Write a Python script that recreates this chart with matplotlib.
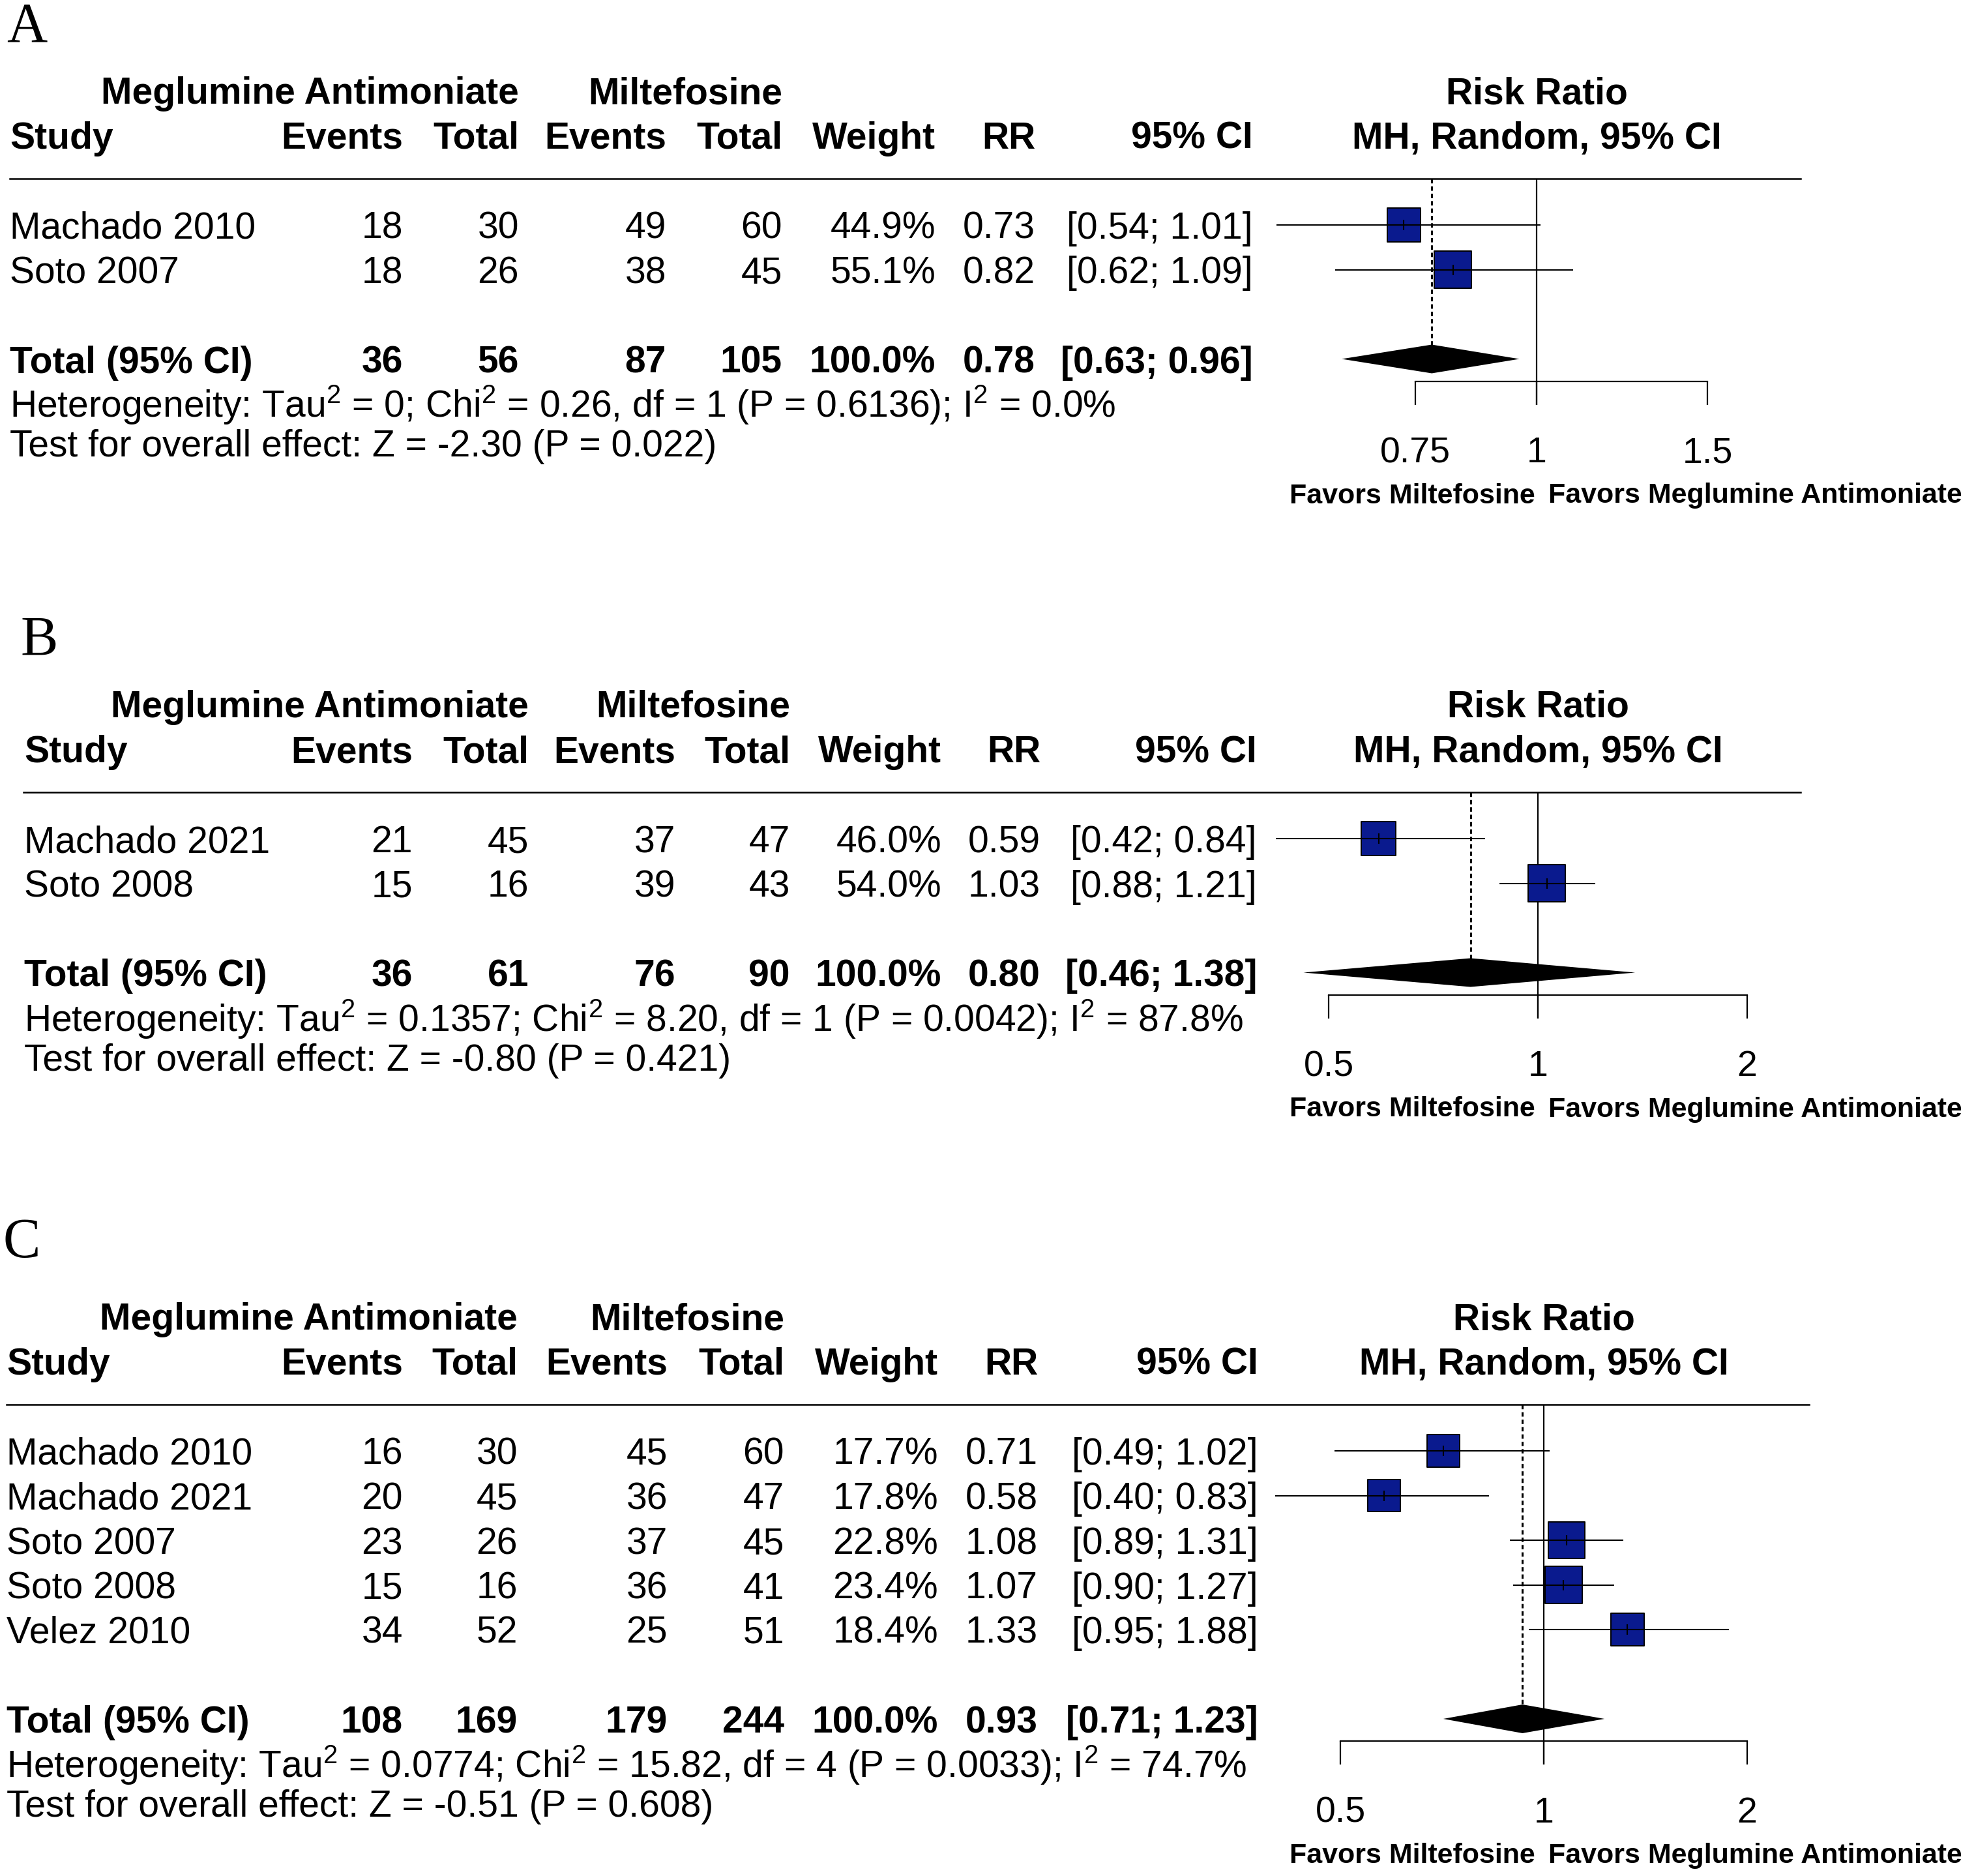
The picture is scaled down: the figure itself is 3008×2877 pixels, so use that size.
import numpy as np
import matplotlib
matplotlib.use("Agg")
import matplotlib.pyplot as plt
from matplotlib.ticker import NullLocator

plt.rcParams['font.family'] = ['Liberation Sans', 'DejaVu Sans']
plt.rcParams['mathtext.fontset'] = 'custom'
plt.rcParams['mathtext.rm'] = 'Liberation Sans'
plt.rcParams['mathtext.default'] = 'regular'

W, H = 3008, 2877
FS = 41          # table text
FS_TICK = 40
FS_FAV = 31      # "Favors ..." labels
SQ_COL = "#0a1a8e"

# ---- data: panel A ----
A_STUDY = ["Machado 2010", "Soto 2007"]
A_EV_MA = [18, 18]
A_N_MA = [30, 26]
A_EV_MI = [49, 38]
A_N_MI = [60, 45]
A_WEIGHT = [44.9, 55.1]
A_RR = [0.73, 0.82]
A_LO = [0.54, 0.62]
A_HI = [1.01, 1.09]
A_POOLED = [0.78, 0.63, 0.96]
A_HET = "Heterogeneity: Tau$^2$ = 0; Chi$^2$ = 0.26, df = 1 (P = 0.6136); I$^2$ = 0.0%"
A_TEST = "Test for overall effect: Z = -2.30 (P = 0.022)"
A_TICKS = [0.75, 1, 1.5]

# ---- data: panel B ----
B_STUDY = ["Machado 2021", "Soto 2008"]
B_EV_MA = [21, 15]
B_N_MA = [45, 16]
B_EV_MI = [37, 39]
B_N_MI = [47, 43]
B_WEIGHT = [46.0, 54.0]
B_RR = [0.59, 1.03]
B_LO = [0.42, 0.88]
B_HI = [0.84, 1.21]
B_POOLED = [0.80, 0.46, 1.38]
B_HET = "Heterogeneity: Tau$^2$ = 0.1357; Chi$^2$ = 8.20, df = 1 (P = 0.0042); I$^2$ = 87.8%"
B_TEST = "Test for overall effect: Z = -0.80 (P = 0.421)"
B_TICKS = [0.5, 1, 2]

# ---- data: panel C ----
C_STUDY = ["Machado 2010", "Machado 2021", "Soto 2007", "Soto 2008", "Velez 2010"]
C_EV_MA = [16, 20, 23, 15, 34]
C_N_MA = [30, 45, 26, 16, 52]
C_EV_MI = [45, 36, 37, 36, 25]
C_N_MI = [60, 47, 45, 41, 51]
C_WEIGHT = [17.7, 17.8, 22.8, 23.4, 18.4]
C_RR = [0.71, 0.58, 1.08, 1.07, 1.33]
C_LO = [0.49, 0.40, 0.89, 0.90, 0.95]
C_HI = [1.02, 0.83, 1.31, 1.27, 1.88]
C_POOLED = [0.93, 0.71, 1.23]
C_HET = "Heterogeneity: Tau$^2$ = 0.0774; Chi$^2$ = 15.82, df = 4 (P = 0.0033); I$^2$ = 74.7%"
C_TEST = "Test for overall effect: Z = -0.51 (P = 0.608)"
C_TICKS = [0.5, 1, 2]

fig = plt.figure(figsize=(W / 100, H / 100), dpi=100)
base = fig.add_axes([0, 0, 1, 1])
base.set_xlim(0, W)
base.set_ylim(H, 0)
base.axis("off")


def txt(x, y, s, ha="left", bold=False, size=FS, ax=None):
    (ax or base).text(x, y, s, ha=ha, va="baseline", fontsize=size,
                      fontweight="bold" if bold else "normal", color="k")


def panel(letter, dy, y_letter, study_x, cols, line_x, x1, k,
          study, ev_ma, n_ma, ev_mi, n_mi, weight, rr, lo, hi, pooled, het, test, ticks):
    # vertical layout in pixels
    y_h1, y_h2, y_line = 159 + dy, 228 + dy, 274 + dy
    y_rows = 366 + dy + 68.5 * np.arange(len(study))
    y_tot = y_rows[-1] + 137
    y_het, y_test = y_tot + 69, y_tot + 129
    y_axis = y_tot + 13

    base.text(study_x - 5, y_letter, letter, family="Liberation Serif", fontsize=62,
              va="baseline", ha="left")

    # header
    txt(cols[1], y_h1, "Meglumine Antimoniate", "right", True)
    txt(cols[3], y_h1, "Miltefosine", "right", True)
    txt(study_x, y_h2, "Study", bold=True)
    for x, s in zip(cols, ["Events", "Total", "Events", "Total", "Weight", "RR", "95% CI"]):
        txt(x, y_h2, s, "right", True)
    base.plot(line_x, [y_line, y_line], color="k", lw=1.8)

    # study rows
    for i, y in enumerate(y_rows):
        vals = [ev_ma[i], n_ma[i], ev_mi[i], n_mi[i], f"{weight[i]:.1f}%",
                f"{rr[i]:.2f}", f"[{lo[i]:.2f}; {hi[i]:.2f}]"]
        txt(study_x, y, study[i])
        for x, v in zip(cols, vals):
            txt(x, y, str(v), "right")

    # total row
    tvals = [sum(ev_ma), sum(n_ma), sum(ev_mi), sum(n_mi), "100.0%",
             f"{pooled[0]:.2f}", f"[{pooled[1]:.2f}; {pooled[2]:.2f}]"]
    txt(study_x, y_tot, "Total (95% CI)", bold=True)
    for x, v in zip(cols, tvals):
        txt(x, y_tot, str(v), "right", True)
    txt(study_x, y_het, het)
    txt(study_x, y_test, test)

    # forest part on a log-scaled axes
    fx = fig.add_axes([0, 0, 1, 1])
    fx.set_facecolor("none")
    fx.set_xscale("log")
    fx.set_xlim(np.exp(-x1 / k), np.exp((W - x1) / k))
    fx.set_ylim(H, 0)
    for s in ["top", "left", "right"]:
        fx.spines[s].set_visible(False)
    fx.spines["bottom"].set_position(("data", y_axis))
    fx.spines["bottom"].set_bounds(min(ticks), max(ticks))
    fx.spines["bottom"].set_linewidth(1.6)
    fx.set_xticks(ticks, labels=[f"{t:g}" for t in ticks])
    fx.xaxis.set_minor_locator(NullLocator())
    fx.tick_params(axis="x", direction="out", length=26, width=1.6, labelsize=FS_TICK, pad=35)
    fx.tick_params(axis="y", left=False, labelleft=False)

    txt(1, y_h1, "Risk Ratio", "center", True, ax=fx)
    txt(1, y_h2, "MH, Random, 95% CI", "center", True, ax=fx)

    y_c = y_rows - 21
    side = 57 * np.sqrt(np.array(weight) / max(weight))
    fx.scatter(rr, y_c, s=(side * 0.72) ** 2, marker="s", facecolor=SQ_COL,
               edgecolor="k", linewidth=1.4, zorder=3)
    fx.hlines(y_c, lo, hi, color="k", lw=1.5, zorder=4)
    fx.plot(rr, y_c, ls="none", marker="|", ms=12, mew=1.5, color="k", zorder=5)

    est, plo, phi = pooled
    yd = y_tot - 21
    fx.fill([plo, est, phi, est], [yd, yd - 22, yd, yd + 22], color="k", lw=0, zorder=3)
    fx.vlines(est, y_line, yd - 22, color="k", lw=2.2, linestyles=(0, (2.2, 1.5)))
    fx.vlines(1, y_line, y_axis + 36, color="k", lw=1.6)

    y_fav = y_axis + 187
    txt(2355, y_fav, "Favors Miltefosine", "right", True, FS_FAV)
    txt(2375, y_fav, "Favors Meglumine Antimoniate", "left", True, FS_FAV)


panel("A", 0, 64, 15, [618, 796, 1022, 1200, 1435, 1588, 1922], [15, 2762], 2357, 647,
      A_STUDY, A_EV_MA, A_N_MA, A_EV_MI, A_N_MI, A_WEIGHT, A_RR, A_LO, A_HI,
      A_POOLED, A_HET, A_TEST, A_TICKS)
panel("B", 941, 1005, 37, [633, 811, 1036, 1212, 1444, 1596, 1928], [36, 2762], 2359, 463,
      B_STUDY, B_EV_MA, B_N_MA, B_EV_MI, B_N_MI, B_WEIGHT, B_RR, B_LO, B_HI,
      B_POOLED, B_HET, B_TEST, B_TICKS)
panel("C", 1880, 1928, 10, [618, 794, 1024, 1203, 1439, 1592, 1930], [10, 2775], 2368, 450,
      C_STUDY, C_EV_MA, C_N_MA, C_EV_MI, C_N_MI, C_WEIGHT, C_RR, C_LO, C_HI,
      C_POOLED, C_HET, C_TEST, C_TICKS)

fig.savefig("out.png", dpi=100)
